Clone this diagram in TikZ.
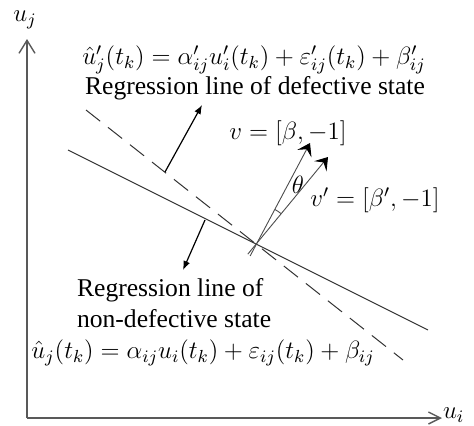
\RequirePackage{fix-cm}
\documentclass[tikz,border=0pt]{standalone}
\usepackage{fontspec}
\setmainfont{Liberation Serif}
\usetikzlibrary{arrows.meta,angles,calc}
\begin{document}
\begin{tikzpicture}[x=0.5pt, y=0.5pt, font=\rmfamily\fontsize{12.8}{15.5}\selectfont,
    eqn/.style={font=\rmfamily\fontsize{12.5}{14}\selectfont},
    vec/.style={black!70, line width=0.45pt, -{Stealth[length=6pt, width=8pt, inset=2.5pt, black]}}]
    \useasboundingbox (0,0) rectangle (474,425);

    % 坐标轴
    \coordinate (O) at (27, 7);
    \coordinate (Ytop) at (27, 386);
    \coordinate (Xend) at (442, 7);
    \draw[gray!70!black, line width=0.7pt, -{Straight Barb[length=6.5pt, width=8pt]}] (O) -- (Ytop);
    \draw[gray!70!black, line width=0.7pt, -{Straight Barb[length=6pt, width=6pt]}] (O) -- (Xend);
    \node[eqn] (uj) at (25, 405) {$u_j$};
    \node[eqn, anchor=south west, inner sep=0.3pt] (ui) at ($(Xend)+(0,-5)$) {$u_i$};

    % 两条回归直线, 交于 P
    \coordinate (P) at (257, 182);
    \coordinate (A1) at (68, 275);
    \coordinate (A2) at (428, 95);
    \coordinate (B1) at (86, 315);
    \coordinate (B2) at (403, 65);
    \draw[black!80, line width=0.5pt] (A1) -- (A2);
    \draw[black!80, line width=0.5pt, dash pattern=on 9pt off 5pt] (B1) -- (B2);

    % 法向量 v 和 v'
    \coordinate (vt) at (310, 282);
    \coordinate (vpt) at (328, 268);
    \draw[vec] ($(P)!-0.13!(vt)$) -- (vt);
    \draw[vec] ($(P)!-0.13!(vpt)$) -- (vpt);
    \pic[draw, black!70, line width=0.45pt, angle radius=19pt] {angle=vpt--P--vt};
    \node[eqn] (th) at (298, 240) {$\theta$};

    % 指向两条直线的箭头
    \coordinate (N1s) at (165, 253);
    \coordinate (N1e) at (202, 320);
    \coordinate (N2s) at (205, 205);
    \coordinate (N2e) at (183, 155);
    \draw[line width=0.6pt, -{Latex[length=4.5pt, width=3.5pt]}] (N1s) -- (N1e);
    \draw[line width=0.6pt, -{Latex[length=4.5pt, width=3.5pt]}] (N2s) -- (N2e);

    % 标注
    \node[eqn] (eqdef) at (254, 365) {$\hat{u}'_j(t_k) = \alpha'_{ij}u'_i(t_k) + \varepsilon'_{ij}(t_k) + \beta'_{ij}$};
    \node (txtdef) at (255, 337) {Regression line of defective state};
    \node[eqn] (vlab) at (288, 292) {$v = [\beta, -1]$};
    \node[eqn] (vplab) at (375, 225) {$v' = [\beta', -1]$};
    \node[anchor=west, align=left] (txtnon) at (70, 122) {Regression line of\\non-defective state};
    \node[eqn] (eqnon) at (203, 72) {$\hat{u}_j(t_k) = \alpha_{ij}u_i(t_k) + \varepsilon_{ij}(t_k) + \beta_{ij}$};
\end{tikzpicture}
\end{document}
